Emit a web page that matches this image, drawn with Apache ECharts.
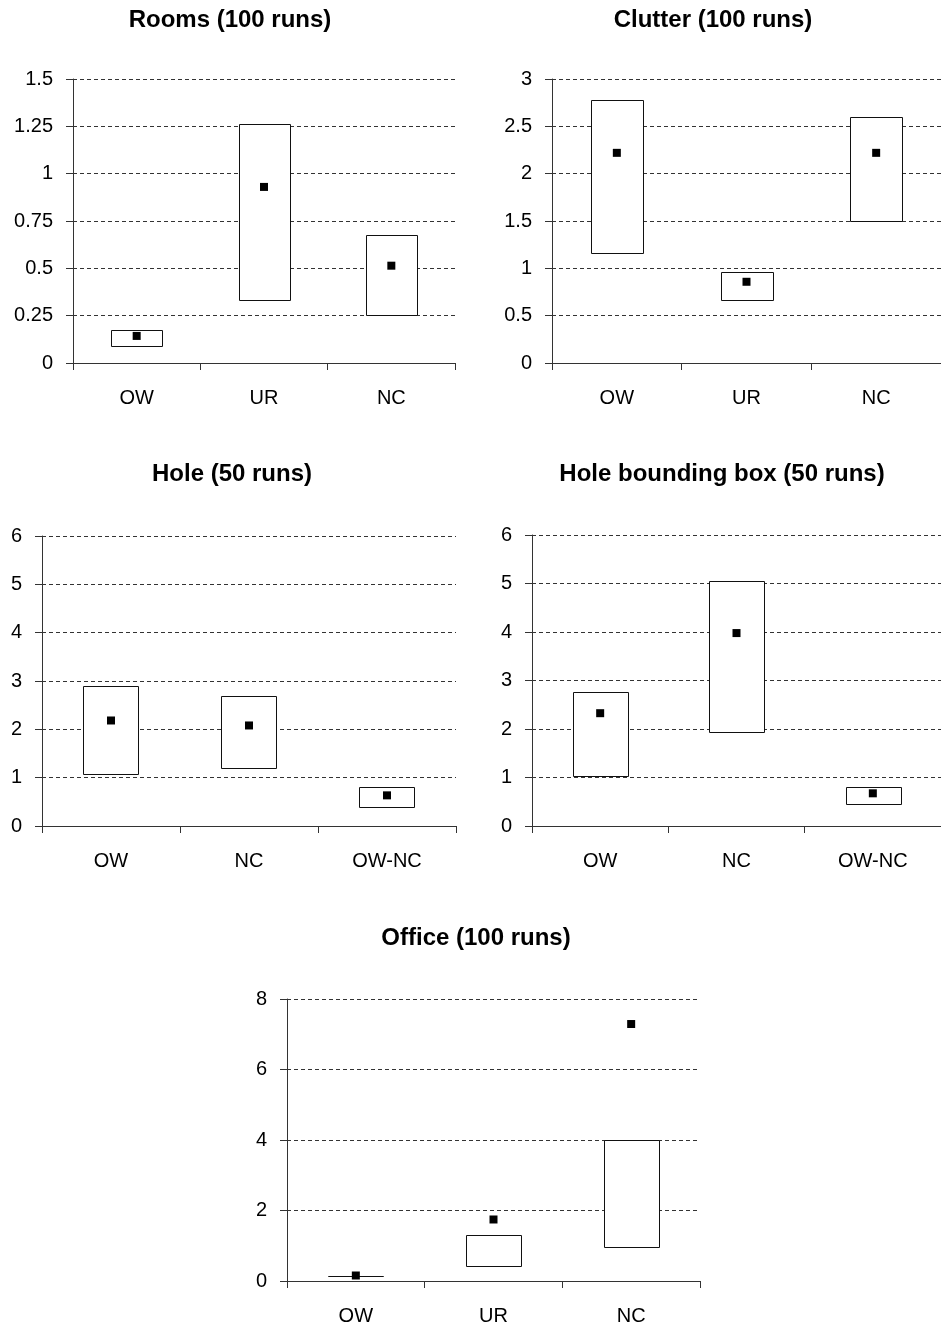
<!DOCTYPE html>
<html>
<head>
<meta charset="utf-8">
<script src="https://cdn.jsdelivr.net/npm/echarts@6/dist/echarts.min.js"></script>
<style>
  html, body { margin: 0; padding: 0; background: #fff; }
  #chart { width: 941px; height: 1329px; }
</style>
</head>
<body>
<div id="chart"></div>
<script>
// values: box = [low, high], square = mean
const roomsCats = ['OW', 'UR', 'NC'];
const roomsLow = [0.094, 0.332, 0.252];
const roomsHigh = [0.176, 1.263, 0.674];
const roomsMean = [0.143, 0.930, 0.514];

const clutterCats = ['OW', 'UR', 'NC'];
const clutterLow = [1.158, 0.664, 1.500];
const clutterHigh = [2.774, 0.957, 2.594];
const clutterMean = [2.220, 0.858, 2.220];

const holeCats = ['OW', 'NC', 'OW-NC'];
const holeLow = [1.081, 1.212, 0.400];
const holeHigh = [2.893, 2.693, 0.813];
const holeMean = [2.183, 2.080, 0.634];

const holeBoxCats = ['OW', 'NC', 'OW-NC'];
const holeBoxLow = [1.032, 1.941, 0.461];
const holeBoxHigh = [2.767, 5.052, 0.812];
const holeBoxMean = [2.326, 3.978, 0.674];

const officeCats = ['OW', 'UR', 'NC'];
const officeLow = [0.148, 0.443, 0.962];
const officeHigh = [0.152, 1.311, 3.990];
const officeMean = [0.156, 1.745, 7.290];

const panels = [
  { title: 'Rooms (100 runs)', cats: roomsCats, low: roomsLow, high: roomsHigh, mean: roomsMean,
    max: 1.5, interval: 0.25, grid: { left: 73, top: 79, width: 382, height: 284 }, titleX: 225, titleY: 3 },
  { title: 'Clutter (100 runs)', cats: clutterCats, low: clutterLow, high: clutterHigh, mean: clutterMean,
    max: 3, interval: 0.5, grid: { left: 552, top: 79, width: 394, height: 284 }, titleX: 708, titleY: 3 },
  { title: 'Hole (50 runs)', cats: holeCats, low: holeLow, high: holeHigh, mean: holeMean,
    max: 6, interval: 1, grid: { left: 42, top: 536, width: 414, height: 290 }, titleX: 227, titleY: 457 },
  { title: 'Hole bounding box (50 runs)', cats: holeBoxCats, low: holeBoxLow, high: holeBoxHigh, mean: holeBoxMean,
    max: 6, interval: 1, grid: { left: 532, top: 535, width: 415, height: 291 }, titleX: 717, titleY: 457 },
  { title: 'Office (100 runs)', cats: officeCats, low: officeLow, high: officeHigh, mean: officeMean,
    max: 8, interval: 2, grid: { left: 287, top: 999, width: 413, height: 282 }, titleX: 471, titleY: 921 }
];

const FONT = 'Liberation Sans, Arial, sans-serif';
const AXIS_COLOR = '#333';

// box from low to high, drawn through the axis scales
function renderBox(params, api) {
  const cat = api.value(0);
  const lo = api.coord([cat, api.value(1)]);
  const hi = api.coord([cat, api.value(2)]);
  const w = api.size([1, 0])[0] * 0.4;
  return {
    type: 'rect',
    shape: { x: Math.round(lo[0] - w / 2) + 0.5, y: Math.round(hi[1]) + 0.5, width: Math.round(w), height: Math.round(lo[1] - hi[1]) },
    style: { fill: '#fff', stroke: '#111', lineWidth: 1 }
  };
}

const option = {
  animation: false,
  backgroundColor: '#fff',
  title: [],
  grid: [],
  xAxis: [],
  yAxis: [],
  series: []
};

panels.forEach((p, i) => {
  option.title.push({
    text: p.title,
    left: p.titleX,
    top: p.titleY,
    textAlign: 'center',
    textStyle: { fontFamily: FONT, fontSize: 24, fontWeight: 'bold', color: '#000' }
  });
  option.grid.push(Object.assign({ containLabel: false }, p.grid));
  option.xAxis.push({
    type: 'category',
    gridIndex: i,
    data: p.cats,
    boundaryGap: true,
    axisLine: { lineStyle: { color: AXIS_COLOR, width: 1 } },
    axisTick: { show: true, length: 7, inside: false, alignWithLabel: false, lineStyle: { color: AXIS_COLOR } },
    axisLabel: { margin: 25, fontFamily: FONT, fontSize: 20, color: '#000' },
    splitLine: { show: false }
  });
  option.yAxis.push({
    type: 'value',
    gridIndex: i,
    min: 0,
    max: p.max,
    interval: p.interval,
    axisLine: { show: true, lineStyle: { color: AXIS_COLOR, width: 1 } },
    axisTick: { show: true, length: 7, lineStyle: { color: AXIS_COLOR } },
    axisLabel: { margin: 20, fontFamily: FONT, fontSize: 20, color: '#000' },
    splitLine: { show: true, lineStyle: { color: AXIS_COLOR, type: [4, 3], width: 1 } }
  });
  option.series.push({
    type: 'custom',
    xAxisIndex: i,
    yAxisIndex: i,
    renderItem: renderBox,
    encode: { x: 0, y: [1, 2] },
    data: p.cats.map((c, k) => [k, p.low[k], p.high[k]]),
    z: 2
  });
  option.series.push({
    type: 'scatter',
    xAxisIndex: i,
    yAxisIndex: i,
    symbol: 'rect',
    symbolSize: 8,
    itemStyle: { color: '#000', opacity: 1 },
    data: p.cats.map((c, k) => [k, p.mean[k]]),
    z: 3
  });
});

const chart = echarts.init(document.getElementById('chart'), null, { renderer: 'canvas' });
chart.setOption(option);
window.addEventListener('resize', () => chart.resize());
</script>
</body>
</html>
